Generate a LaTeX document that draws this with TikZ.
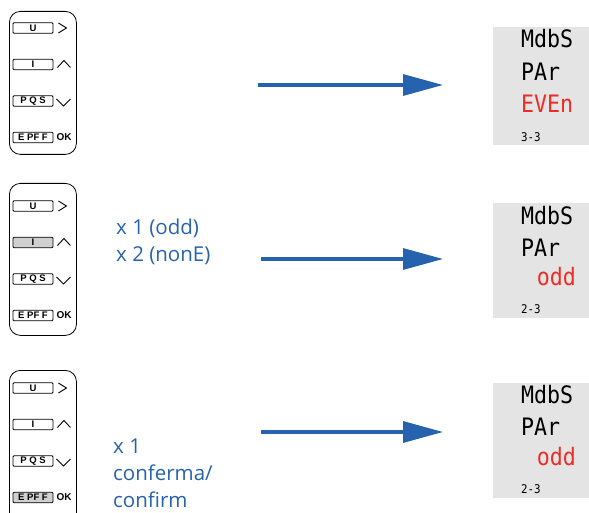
\documentclass[tikz,border=0pt]{standalone}
\usepackage{fontspec}
\setmainfont{Open Sans}
\newfontfamily\segfont[FakeStretch=0.9]{DejaVu Sans Mono}
\newfontfamily\keyfont{Liberation Sans}
\usetikzlibrary{arrows.meta, positioning}
\definecolor{FlowBlue}{RGB}{38,98,174}
\definecolor{SegRed}{RGB}{236,45,38}
\definecolor{ScreenGray}{RGB}{228,228,228}
\definecolor{KeyGray}{RGB}{208,208,208}

\tikzset{
  keypad/.style={draw, rounded corners=11pt, line width=0.8pt, minimum width=67pt, anchor=north west, inner sep=0pt},
  keybox/.style={draw, line width=0.9pt, rounded corners=1pt, minimum width=40pt, minimum height=10.5pt, inner sep=0pt,
    font=\keyfont\bfseries\fontsize{9.5}{9.5}\selectfont},
  chev/.style={line width=0.9pt, line join=miter},
  screen/.style={fill=ScreenGray, minimum width=100pt, minimum height=118pt, anchor=north west, inner sep=0pt},
  seg/.style={inner sep=0pt, font=\segfont\fontsize{24}{24}\selectfont},
  segsmall/.style={inner sep=0pt, font=\segfont\fontsize{12}{12}\selectfont},
  note/.style={text=FlowBlue, inner sep=0pt, anchor=west, align=left},
  flow/.style={draw=FlowBlue, line width=3.2pt, -{Triangle[length=40pt,width=21pt]}}
}

\begin{document}
\begin{tikzpicture}[x=1pt,y=-1pt]
\useasboundingbox (0,0) rectangle (589,513);

% keypads on the left
\foreach \p/\top/\h/\ky/\fI/\fE in {1/11/143/28/white/white, 2/183/152/206/KeyGray/white, 3/370/170/388/white/KeyGray}{
  \node[keypad, minimum height=\h pt] (pad\p) at (9,\top) {};
  \node[keybox] (keyU\p) at (33,\ky) {U};
  \node[keybox, fill=\fI] (keyI\p) at (33,\ky+36.5) {I};
  \node[keybox] (keyP\p) at (33,\ky+73) {P Q S};
  \node[keybox, fill=\fE] (keyE\p) at (33,\ky+109.5) {E PF F};
  \draw[chev] ([xshift=5pt,yshift=5pt]keyU\p.east) -- ++(8,5) -- ++(-8,5);
  \draw[chev] ([xshift=4pt,yshift=-3pt]keyI\p.east) -- ++(6.5,-7) -- ++(6.5,7);
  \draw[chev] ([xshift=3pt,yshift=2pt]keyP\p.east) -- ++(7,7) -- ++(7,-7);
  \node[anchor=west, inner sep=0pt, font=\keyfont\bfseries\fontsize{10}{10}\selectfont] (ok\p) at ([xshift=3pt]keyE\p.east) {OK};
}

% counts
\node[note, font=\fontsize{20.5}{27}\selectfont] (cnt2) at (116,241.5) {x 1 (odd)\\x 2 (nonE)};
\node[note, font=\fontsize{20.5}{27}\selectfont] (cnt3) at (113,473) {x 1\\conferma/\\confirm};

% arrows
\coordinate (a1s) at (258,85);  \coordinate (a1e) at (443,85);
\coordinate (a2s) at (261,259); \coordinate (a2e) at (443,259);
\coordinate (a3s) at (261,432); \coordinate (a3e) at (443,432);
\draw[flow] (a1s) -- (a1e);
\draw[flow] (a2s) -- (a2e);
\draw[flow] (a3s) -- (a3e);

% displays
\node[screen] (scr1) at (493,27) {};
\node[seg, anchor=west] (scr1a) at (521,39) {MdbS};
\node[seg, anchor=west] (scr1b) at (521,72) {PAr};
\node[seg, anchor=west, text=SegRed] (scr1c) at (521,104) {EVEn};
\node[segsmall, anchor=west] (scr1d) at (521,137) {3-3};

\node[screen, minimum height=115pt] (scr2) at (493,203) {};
\node[seg, anchor=west] (scr2a) at (521,216) {MdbS};
\node[seg, anchor=west] (scr2b) at (521,248) {PAr};
\node[seg, anchor=east, text=SegRed] (scr2c) at (576,277) {odd};
\node[segsmall, anchor=west] (scr2d) at (521,309) {2-3};

\node[screen, minimum height=115pt] (scr3) at (493,383) {};
\node[seg, anchor=west] (scr3a) at (521,395) {MdbS};
\node[seg, anchor=west] (scr3b) at (521,427) {PAr};
\node[seg, anchor=east, text=SegRed] (scr3c) at (576,457) {odd};
\node[segsmall, anchor=west] (scr3d) at (521,489) {2-3};
\end{tikzpicture}
\end{document}
